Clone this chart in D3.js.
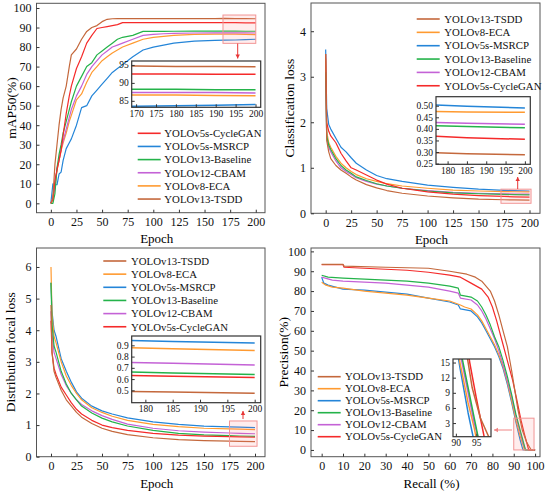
<!DOCTYPE html>
<html>
<head>
<meta charset="utf-8">
<script src="https://cdn.jsdelivr.net/npm/d3@7"></script>
<style>
  body { margin: 0; background: #fff; }
  svg { font-family: "Liberation Serif", "Times New Roman", serif; }
</style>
</head>
<body>
<svg id="chart" width="550" height="492"></svg>
<script>
// ---------------- DATA ----------------
var models = ["YOLOv13-TSDD", "YOLOv8-ECA", "YOLOv5s-MSRCP", "YOLOv13-Baseline", "YOLOv12-CBAM", "YOLOv5s-CycleGAN"];

// mAP50 (%) per epoch, order as in models
var mapEpochs = [0, 2, 4, 6, 8, 10, 12, 15, 18, 20, 25, 30, 35, 40, 45, 50, 55, 60, 65, 70, 80, 90, 100, 110, 120, 140, 160, 170, 180, 190, 200];
var mapValues = [
  [0, 3, 20, 30, 40, 48, 54, 60, 70, 76, 79, 84, 88, 90, 91, 93, 94.2, 94.5, 94.6, 94.6, 94.6, 94.6, 94.6, 94.6, 94.6, 94.6, 94.6, 94.7, 94.6, 94.6, 94.5],
  [0, 2, 10, 17, 22, 27, 31, 36, 42, 45, 53, 56, 62, 67, 70, 73, 75, 77, 78.5, 80, 82, 84, 85, 85.5, 86, 86.5, 86.6, 86.6, 86.6, 86.5, 86.4],
  [0, 10, 9.5, 9.5, 15, 16, 22, 28, 31, 33, 40, 49, 50, 55, 58, 61, 64, 67, 69, 71, 75, 78.5, 80, 81, 82, 83, 83.4, 83.5, 83.6, 83.8, 84],
  [0, 0, 5, 18, 25, 30, 36, 42, 48, 52, 60, 65, 70, 72, 76, 78, 80, 82, 84, 85, 86, 88, 88, 88, 88.1, 88.2, 88.2, 88.2, 88.2, 88.1, 88.1],
  [0, 3, 8, 18, 22, 28, 32, 38, 44, 48, 55, 60, 66, 70, 73, 76, 78, 80, 81, 82, 84, 86, 86.5, 86.8, 87, 87.2, 87.3, 87.3, 87.3, 87.3, 87.2],
  [0, 2, 12, 17, 22, 27, 35, 46, 55, 60, 69, 75, 82, 86, 89.5, 90, 90.5, 91, 91.5, 92.5, 92.5, 92.5, 92.5, 92.5, 92.5, 92.5, 92.5, 92.5, 92.5, 92.4, 92.4]
];

// loss curves share one epoch grid
var lossEpochs = [0, 1, 3, 5, 10, 15, 20, 25, 30, 40, 50, 60, 75, 100, 125, 150, 175, 185, 200];
var clsValues = [
  [3.5, 1.6, 1.35, 1.2, 1.05, 0.95, 0.88, 0.8, 0.73, 0.63, 0.56, 0.5, 0.44, 0.38, 0.34, 0.31, 0.298, 0.293, 0.288],
  [3.4, 1.8, 1.55, 1.45, 1.25, 1.1, 1.0, 0.92, 0.85, 0.76, 0.7, 0.65, 0.6, 0.55, 0.51, 0.49, 0.476, 0.473, 0.472],
  [3.6, 2.3, 1.95, 1.85, 1.65, 1.45, 1.35, 1.22, 1.1, 0.95, 0.83, 0.76, 0.7, 0.62, 0.57, 0.53, 0.505, 0.498, 0.49],
  [3.1, 1.7, 1.5, 1.4, 1.2, 1.05, 0.95, 0.88, 0.8, 0.72, 0.65, 0.6, 0.55, 0.49, 0.45, 0.43, 0.415, 0.41, 0.405],
  [2.9, 1.65, 1.45, 1.35, 1.15, 1.0, 0.92, 0.85, 0.78, 0.7, 0.64, 0.6, 0.55, 0.5, 0.46, 0.44, 0.428, 0.424, 0.42],
  [3.5, 2.0, 1.8, 1.7, 1.55, 1.32, 1.15, 1.0, 0.95, 0.84, 0.73, 0.64, 0.55, 0.47, 0.42, 0.39, 0.37, 0.362, 0.355]
];
var dflValues = [
  [4.8, 3.3, 2.7, 2.5, 2.1, 1.8, 1.6, 1.4, 1.25, 1.05, 0.9, 0.8, 0.7, 0.6, 0.54, 0.51, 0.49, 0.485, 0.475],
  [6.0, 4.5, 3.8, 3.6, 3.0, 2.55, 2.25, 2.0, 1.8, 1.55, 1.4, 1.28, 1.15, 1.02, 0.95, 0.9, 0.88, 0.87, 0.855],
  [5.5, 4.6, 4.0, 3.8, 3.1, 2.7, 2.35, 2.05, 1.85, 1.6, 1.45, 1.35, 1.23, 1.1, 1.02, 0.97, 0.945, 0.935, 0.92],
  [5.5, 4.2, 3.5, 3.3, 2.7, 2.3, 2.0, 1.8, 1.6, 1.38, 1.22, 1.1, 0.97, 0.83, 0.74, 0.69, 0.665, 0.655, 0.64],
  [4.6, 3.9, 3.3, 3.1, 2.6, 2.25, 2.0, 1.8, 1.65, 1.45, 1.3, 1.18, 1.03, 0.9, 0.82, 0.78, 0.75, 0.74, 0.725],
  [4.3, 3.3, 2.8, 2.6, 2.2, 1.95, 1.7, 1.5, 1.35, 1.15, 1.0, 0.92, 0.83, 0.74, 0.68, 0.65, 0.635, 0.625, 0.615]
];

// precision-recall points [recall %, precision %]
var prPoints = [
  [[0, 93.5], [10, 93.5], [10.5, 92.6], [30, 92], [50, 91.5], [60, 90], [68, 88.5], [72, 87], [75, 85], [79, 80], [81, 75], [83, 68], [85, 60], [87, 52], [89, 40], [90.5, 30], [92, 20], [94, 10], [96, 4], [98.2, 0], [100, 0]],
  [[0, 84.5], [2, 83], [5, 82], [10, 81.5], [20, 80], [30, 79], [40, 78], [50, 76.5], [60, 75], [65, 73], [67, 72], [70, 71], [73, 68], [75, 65], [77, 61], [79, 57], [81, 53], [83, 48], [85, 42], [87, 34], [89, 25], [91, 15], [93, 7], [94.5, 2], [95, 0], [100, 0]],
  [[0, 87], [1, 84], [3, 83], [10, 81], [20, 80.5], [30, 79.5], [40, 78.5], [50, 76.5], [60, 74.5], [64, 73], [65, 71], [70, 70], [73, 67], [75, 64], [77, 60], [79, 56], [81, 52], [83, 47], [85, 41], [87, 33], [89, 24], [91, 14], [93, 5], [94.3, 0], [100, 0]],
  [[0, 88], [3, 87], [10, 86.5], [20, 86], [30, 85.5], [40, 85], [50, 84], [60, 82.5], [64, 81.5], [65, 78], [70, 77], [73, 75], [75, 72], [77, 68], [79, 63], [81, 57], [83, 52], [85, 45], [87, 37], [89, 28], [91, 18], [93, 10], [94.5, 4], [95.5, 0], [100, 0]],
  [[0, 87], [5, 85.5], [10, 85], [20, 84.5], [30, 84], [40, 83], [50, 82], [60, 80], [64, 79], [65, 76.5], [70, 75.5], [73, 73], [75, 70], [77, 66], [79, 61], [81, 56], [83, 50], [85, 43], [87, 35], [89, 27], [91, 17], [93, 9], [94.5, 3], [95.5, 0], [100, 0]],
  [[0, 93.3], [10, 93.3], [10.5, 92], [20, 91.5], [40, 90.5], [50, 89.5], [60, 88], [65, 87], [70, 84], [75, 81], [78, 77], [80, 72], [82, 65], [84.5, 55], [87, 45], [89.5, 35], [91.5, 25], [93.4, 15], [95, 8], [96, 4], [97, 0], [100, 0]]
];

var epochTicks = [0, 25, 50, 75, 100, 125, 150, 175, 200];
var mapTicks = [0, 10, 20, 30, 40, 50, 60, 70, 80, 90, 100];
var clsTicks = [0, 1, 2, 3, 4];
var dflTicks = [0, 1, 2, 3, 4, 5, 6];
var recallTicks = [0, 10, 20, 30, 40, 50, 60, 70, 80, 90, 100];
var precisionTicks = [0, 10, 20, 30, 40, 50, 60, 70, 80, 90, 100];

// ---------------- STYLE ----------------
var colors = ["#c4683c", "#ff9a30", "#2485d8", "#24b34a", "#c462d6", "#f52a2a"];
var drawOrder = [2, 1, 4, 3, 5, 0];

var svg = d3.select("#chart");
var defs = svg.append("defs");
var clipId = 0;

function toPoints(xs, ys) { return xs.map(function (e, i) { return [e, ys[i]]; }); }

function drawLines(g, x, y, series, width) {
  var line = d3.line().x(function (d) { return x(d[0]); }).y(function (d) { return y(d[1]); });
  var id = "clip" + (clipId++);
  defs.append("clipPath").attr("id", id).append("rect")
    .attr("x", x.range()[0]).attr("y", y.range()[1])
    .attr("width", x.range()[1] - x.range()[0]).attr("height", y.range()[0] - y.range()[1]);
  var lg = g.append("g").attr("clip-path", "url(#" + id + ")");
  drawOrder.forEach(function (i) {
    lg.append("path").attr("d", line(series[i]))
      .attr("fill", "none").attr("stroke", colors[i])
      .attr("stroke-width", width).attr("stroke-linejoin", "round");
  });
}

function drawAxes(g, x, y, xt, yt, fs, fmt, pad) {
  var ax = g.append("g").attr("transform", "translate(0," + y.range()[0] + ")")
    .call(d3.axisBottom(x).tickValues(xt).tickSize(-3).tickPadding(pad).tickFormat(fmt.x || d3.format("d")));
  var ay = g.append("g").attr("transform", "translate(" + x.range()[0] + ",0)")
    .call(d3.axisLeft(y).tickValues(yt).tickSize(-3).tickPadding(pad).tickFormat(fmt.y || d3.format("d")));
  [ax, ay].forEach(function (a) {
    a.select(".domain").remove();
    a.selectAll("line").attr("stroke", "#333");
    a.selectAll("text").attr("fill", "#111").style("font-size", fs + "px").style("font-family", "Liberation Serif, serif");
  });
}

function drawFrame(g, x, y, color, width) {
  g.append("rect")
    .attr("x", x.range()[0]).attr("y", y.range()[1])
    .attr("width", x.range()[1] - x.range()[0]).attr("height", y.range()[0] - y.range()[1])
    .attr("fill", "none").attr("stroke", color).attr("stroke-width", width);
}

function drawArrow(g, x1, y1, x2, y2, color) {
  var ang = Math.atan2(y2 - y1, x2 - x1);
  g.append("line").attr("x1", x1).attr("y1", y1).attr("x2", x2).attr("y2", y2)
    .attr("stroke", color).attr("stroke-width", 1);
  var s = 4;
  var p = [[x2, y2],
    [x2 - s * Math.cos(ang) + s * 0.55 * Math.sin(ang), y2 - s * Math.sin(ang) - s * 0.55 * Math.cos(ang)],
    [x2 - s * Math.cos(ang) - s * 0.55 * Math.sin(ang), y2 - s * Math.sin(ang) + s * 0.55 * Math.cos(ang)]];
  g.append("path").attr("d", "M" + p.join("L") + "Z").attr("fill", color);
}

function drawPanel(p) {
  var g = svg.append("g");
  var x = d3.scaleLinear().domain(p.xDomain).range([p.box[0], p.box[1]]);
  var y = d3.scaleLinear().domain(p.yDomain).range([p.box[3], p.box[2]]);

  drawLines(g, x, y, p.series, 1.2);

  // zoom window marker
  var z = p.zoom;
  g.append("rect")
    .attr("x", x(z[0])).attr("y", y(z[3]))
    .attr("width", x(z[1]) - x(z[0])).attr("height", y(z[2]) - y(z[3]))
    .attr("fill", "rgba(255,130,130,0.14)").attr("stroke", "#f29595").attr("stroke-width", 1);
  drawArrow(g, p.arrow[0], p.arrow[1], p.arrow[2], p.arrow[3], p.arrowColor);

  drawFrame(g, x, y, "#555", 1);
  drawAxes(g, x, y, p.xTicks, p.yTicks, 12, {}, 5);

  // axis titles
  g.append("text").attr("x", (p.box[0] + p.box[1]) / 2 + 6).attr("y", p.xTitleY)
    .attr("text-anchor", "middle").style("font-size", "13px").text(p.xTitle);
  g.append("text").attr("transform", "translate(" + p.yTitleX + "," + (p.box[2] + p.box[3]) / 2 + ") rotate(-90)")
    .attr("text-anchor", "middle").attr("dy", "0.35em").style("font-size", "13.5px").text(p.yTitle);

  // legend
  var lg = g.append("g");
  p.legendOrder.forEach(function (i, k) {
    var yy = p.legend[2] + k * p.legend[3];
    lg.append("line").attr("x1", p.legend[0]).attr("x2", p.legend[0] + 23)
      .attr("y1", yy).attr("y2", yy).attr("stroke", colors[i]).attr("stroke-width", 1.6);
    lg.append("text").attr("x", p.legend[1]).attr("y", yy).attr("dy", "0.35em")
      .style("font-size", "10.8px").attr("fill", "#111").text(models[i]);
  });

  // inset
  var ins = p.inset;
  var ig = g.append("g");
  var ix = d3.scaleLinear().domain(ins.xDomain).range([ins.box[0], ins.box[1]]);
  var iy = d3.scaleLinear().domain(ins.yDomain).range([ins.box[3], ins.box[2]]);
  ig.append("rect").attr("x", ins.box[0]).attr("y", ins.box[2])
    .attr("width", ins.box[1] - ins.box[0]).attr("height", ins.box[3] - ins.box[2]).attr("fill", "#fff");
  drawLines(ig, ix, iy, p.series, 1.5);
  drawFrame(ig, ix, iy, "#333", 1.2);
  drawAxes(ig, ix, iy, ins.xTicks, ins.yTicks, 9.5, { y: ins.yFormat }, 3);
}

var lossSeries = function (vals) { return vals.map(function (v) { return toPoints(lossEpochs, v); }); };

drawPanel({
  box: [36.5, 265, 3.3, 212.7], xDomain: [-14, 209], yDomain: [-4.8, 102.4],
  series: mapValues.map(function (v) { return toPoints(mapEpochs, v); }),
  xTicks: epochTicks, yTicks: mapTicks,
  xTitle: "Epoch", xTitleY: 243, yTitle: "mAP50(%)", yTitleX: 11,
  legend: [137.7, 164.3, 133.3, 13.15], legendOrder: [5, 2, 3, 4, 1, 0],
  zoom: [168, 200, 81.9, 96.4], arrow: [237.7, 43.5, 237.7, 58.5], arrowColor: "#e83535",
  inset: { box: [131.7, 260.7, 61, 107.3], xDomain: [168.9, 201.3], yDomain: [83.2, 96.1],
    xTicks: [170, 175, 180, 185, 190, 195, 200], yTicks: [85, 90, 95], yFormat: d3.format("d") }
});

drawPanel({
  box: [311, 540, 3, 213.3], xDomain: [-14.4, 210.3], yDomain: [0, 4.62],
  series: lossSeries(clsValues),
  xTicks: epochTicks, yTicks: clsTicks,
  xTitle: "Epoch", xTitleY: 244, yTitle: "Classification loss", yTitleX: 289,
  legend: [416.7, 444.3, 19, 13.35], legendOrder: [0, 1, 2, 3, 4, 5],
  zoom: [172, 201.5, 0.22, 0.53], arrow: [517.7, 189, 517.7, 177], arrowColor: "#e83535",
  inset: { box: [436, 530.3, 96.7, 164.3], xDomain: [177, 201.4], yDomain: [0.247, 0.539],
    xTicks: [180, 185, 190, 195, 200], yTicks: [0.25, 0.30, 0.35, 0.40, 0.45, 0.50], yFormat: d3.format(".2f") }
});

drawPanel({
  box: [36.5, 265, 248, 456.7], xDomain: [-14.2, 209.8], yDomain: [0, 6.6],
  series: lossSeries(dflValues),
  xTicks: epochTicks, yTicks: dflTicks,
  xTitle: "Epoch", xTitleY: 488, yTitle: "Distribution focal loss", yTitleX: 10,
  legend: [103.3, 131, 261, 13.15], legendOrder: [0, 1, 2, 3, 4, 5],
  zoom: [175, 202, 0.33, 1.13], arrow: [243, 419, 243, 411], arrowColor: "#e83535",
  inset: { box: [131.7, 260.7, 336, 402.7], xDomain: [177.5, 201.1], yDomain: [0.39, 0.983],
    xTicks: [180, 185, 190, 195, 200], yTicks: [0.5, 0.6, 0.7, 0.8, 0.9], yFormat: d3.format(".1f") }
});

drawPanel({
  box: [311, 540, 248, 456.7], xDomain: [-5, 102.3], yDomain: [-3.4, 101.7],
  series: prPoints,
  xTicks: recallTicks, yTicks: precisionTicks,
  xTitle: "Recall (%)", xTitleY: 488, yTitle: "Precision(%)", yTitleX: 283,
  legend: [317.7, 345, 376.7, 12], legendOrder: [0, 1, 2, 3, 4, 5],
  zoom: [90, 99.5, 0, 16], arrow: [512, 430, 494, 430], arrowColor: "#f08585",
  inset: { box: [453, 491, 359, 436.7], xDomain: [89.3, 98.6], yDomain: [0.3, 15.7],
    xTicks: [90, 95], yTicks: [3, 6, 9, 12, 15], yFormat: d3.format("d") }
});
</script>
</body>
</html>
